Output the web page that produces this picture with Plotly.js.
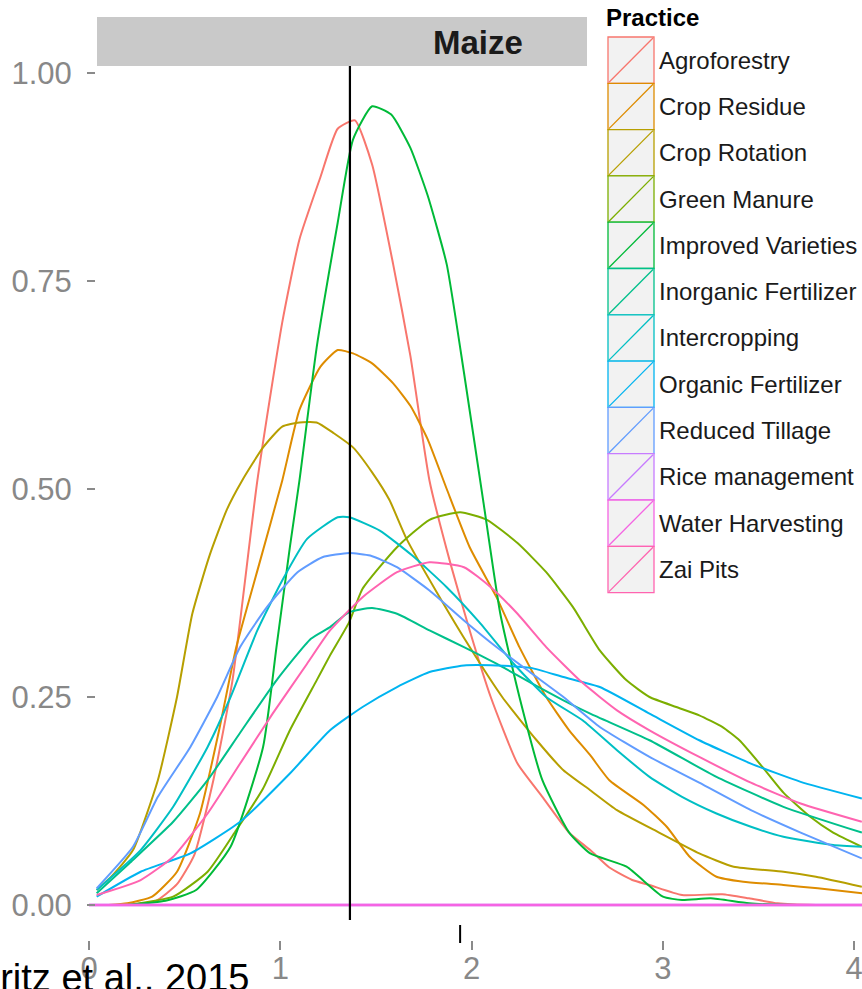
<!DOCTYPE html>
<html>
<head>
<meta charset="utf-8">
<script src="https://cdn.plot.ly/plotly-3.0.1.min.js"></script>
<style>html,body{margin:0;padding:0;background:#fff;}#chart{width:862px;height:989px;}</style>
</head>
<body>
<div id="chart"></div>
<script>
// ---------- data ----------
const practices = ["Agroforestry","Crop Residue","Crop Rotation","Green Manure","Improved Varieties",
  "Inorganic Fertilizer","Intercropping","Organic Fertilizer","Reduced Tillage","Rice management",
  "Water Harvesting","Zai Pits"];
const colors = ["rgb(248,118,109)","rgb(222,140,0)","rgb(183,159,0)","rgb(124,174,0)","rgb(0,186,56)",
  "rgb(0,192,139)","rgb(0,191,196)","rgb(0,180,240)","rgb(97,156,255)","rgb(199,124,255)",
  "rgb(245,100,227)","rgb(255,100,176)"];

const agroX = [0.2,0.35,0.46,0.55,0.65,0.75,0.88,1.01,1.10,1.21,1.30,1.39,1.48,1.59,1.68,1.78,1.89,1.99,2.10,2.24,2.37,2.51,2.62,2.72,2.84,2.93,3.10,3.31,3.45,3.60,3.8,4.1];
const agroY = [0.0,0.005,0.025,0.06,0.15,0.27,0.51,0.70,0.80,0.875,0.933,0.943,0.89,0.77,0.66,0.51,0.41,0.33,0.25,0.17,0.13,0.087,0.066,0.045,0.03,0.024,0.012,0.013,0.008,0.002,0,0];

const residueX = [0.1,0.2,0.33,0.46,0.58,0.68,0.77,0.89,1.01,1.10,1.21,1.30,1.38,1.48,1.59,1.68,1.77,1.87,1.99,2.13,2.25,2.39,2.51,2.62,2.72,2.90,3.02,3.14,3.28,3.42,3.63,3.81,4.05];
const residueY = [0.0,0.002,0.01,0.04,0.11,0.21,0.31,0.41,0.51,0.595,0.647,0.667,0.663,0.651,0.627,0.60,0.56,0.50,0.43,0.37,0.31,0.25,0.21,0.18,0.15,0.12,0.094,0.058,0.034,0.028,0.024,0.02,0.014];

const rotationX = [0.04,0.12,0.23,0.36,0.46,0.54,0.63,0.72,0.80,0.91,1.01,1.10,1.19,1.28,1.38,1.48,1.57,1.66,1.82,1.99,2.16,2.34,2.48,2.62,2.76,2.98,3.19,3.37,3.63,3.80,4.04];
const rotationY = [0.018,0.035,0.066,0.15,0.25,0.35,0.42,0.475,0.51,0.55,0.575,0.58,0.58,0.567,0.55,0.52,0.487,0.44,0.375,0.31,0.25,0.198,0.162,0.138,0.114,0.087,0.062,0.046,0.04,0.034,0.022];

const manureX = [0.2,0.44,0.62,0.77,0.91,1.05,1.19,1.26,1.36,1.43,1.61,1.78,1.94,2.08,2.24,2.39,2.53,2.67,2.81,2.93,3.07,3.19,3.31,3.40,3.52,3.63,3.77,3.89,4.04];
const manureY = [0.0,0.01,0.04,0.09,0.14,0.21,0.27,0.30,0.34,0.38,0.43,0.463,0.472,0.463,0.435,0.40,0.358,0.306,0.27,0.25,0.238,0.228,0.214,0.198,0.166,0.135,0.106,0.087,0.07];

const varietiesX = [0.2,0.4,0.56,0.74,0.91,0.98,1.05,1.10,1.19,1.30,1.38,1.48,1.58,1.68,1.77,1.87,1.96,2.06,2.15,2.25,2.37,2.51,2.62,2.81,3.0,3.10,3.25,3.45,3.7,4.1];
const varietiesY = [0.0,0.005,0.018,0.07,0.19,0.31,0.43,0.51,0.67,0.82,0.92,0.96,0.95,0.91,0.853,0.77,0.64,0.487,0.35,0.25,0.15,0.087,0.062,0.046,0.01,0.006,0.008,0.002,0,0];

const inorgX = [0.04,0.21,0.44,0.62,0.79,0.98,1.16,1.26,1.36,1.48,1.61,1.78,1.96,2.13,2.31,2.48,2.62,2.93,3.28,3.63,4.04];
const inorgY = [0.014,0.05,0.10,0.15,0.207,0.27,0.32,0.334,0.352,0.357,0.35,0.33,0.31,0.29,0.267,0.246,0.23,0.198,0.154,0.118,0.087];

const intercropX = [0.04,0.27,0.44,0.62,0.74,0.88,1.01,1.14,1.30,1.36,1.52,1.69,1.87,2.04,2.22,2.39,2.58,2.76,2.93,3.10,3.28,3.46,3.63,3.89,4.04];
const intercropY = [0.018,0.066,0.118,0.19,0.25,0.33,0.39,0.44,0.466,0.466,0.45,0.42,0.382,0.34,0.29,0.25,0.222,0.186,0.154,0.13,0.11,0.094,0.082,0.072,0.07];

const organicX = [0.04,0.27,0.53,0.79,1.05,1.26,1.43,1.61,1.78,1.96,2.13,2.31,2.48,2.67,2.93,3.19,3.46,3.72,4.04];
const organicY = [0.01,0.04,0.062,0.10,0.158,0.21,0.238,0.262,0.28,0.288,0.288,0.285,0.274,0.262,0.23,0.198,0.17,0.148,0.128];

const tillageX = [0.04,0.23,0.36,0.53,0.67,0.79,0.93,1.09,1.22,1.36,1.47,1.61,1.78,1.96,2.13,2.31,2.48,2.67,2.93,3.19,3.46,3.72,4.04];
const tillageY = [0.02,0.07,0.13,0.19,0.25,0.31,0.358,0.40,0.418,0.423,0.42,0.406,0.378,0.342,0.31,0.279,0.25,0.214,0.178,0.147,0.114,0.087,0.056];

const riceX = [0, 4.1];
const riceY = [0, 0];
const waterX = [0, 4.1];
const waterY = [0, 0];

const zaiX = [0.04,0.27,0.44,0.62,0.79,0.96,1.14,1.26,1.43,1.61,1.78,1.96,2.10,2.24,2.39,2.58,2.76,2.93,3.19,3.46,3.72,4.04];
const zaiY = [0.012,0.03,0.058,0.11,0.17,0.23,0.29,0.33,0.37,0.40,0.412,0.406,0.382,0.35,0.31,0.267,0.234,0.21,0.178,0.147,0.122,0.10];

const seriesX = [agroX,residueX,rotationX,manureX,varietiesX,inorgX,intercropX,organicX,tillageX,riceX,waterX,zaiX];
const seriesY = [agroY,residueY,rotationY,manureY,varietiesY,inorgY,intercropY,organicY,tillageY,riceY,waterY,zaiY];

const yTicks = [0, 0.25, 0.5, 0.75, 1.0];
const yTickText = ["0.00","0.25","0.50","0.75","1.00"];
const xTicks = [0, 1, 2, 3, 4];
const vlineX = 1.364;   // reference (mean) line
const markX = 1.94;     // short mark below the panel
const facetLabel = "Maize";
const legendTitle = "Practice";
const sourceText = "Fritz et al., 2015";

// ---------- layout helpers (pixel -> paper) ----------
const W = 862, H = 989;
const L = 85, R = 862, T = 66, B = 940;
const px = v => (v - L) / (R - L);
const py = v => (B - v) / (B - T);

// flat zero lines drawn last (on top)
const order = [0,1,2,3,4,5,6,7,8,11,9,10];
const traces = order.map(i => ({
  type: 'scatter', mode: 'lines', x: seriesX[i], y: seriesY[i], name: practices[i],
  line: {color: colors[i], width: (seriesX[i].length === 2 ? 2.6 : 2), shape: 'spline', smoothing: 0.5},
  hoverinfo: 'skip', showlegend: false, cliponaxis: true
}));

const shapes = [];
const annotations = [];
const FONT = 'Liberation Sans, Arial, sans-serif';

// facet strip
shapes.push({type:'rect', xref:'paper', yref:'paper', x0:px(97), x1:px(870), y0:py(66), y1:py(17),
  fillcolor:'#C9C9C9', line:{width:0}, layer:'below'});
annotations.push({xref:'paper', yref:'paper', x:px(478), y:py(42), text:'<b>'+facetLabel+'</b>', showarrow:false,
  xanchor:'center', yanchor:'middle', font:{family:FONT, size:33, color:'#1a1a1a'}});

// vertical reference line & small mark
shapes.push({type:'line', xref:'x', yref:'y', x0:vlineX, x1:vlineX, y0:-0.018, y1:1.0084,
  line:{color:'#000000', width:2.2}, layer:'above'});
shapes.push({type:'line', xref:'x', yref:'paper', x0:markX, x1:markX, y0:py(943), y1:py(925),
  line:{color:'#000000', width:2}, layer:'above'});

// legend (white backing overlapping the strip, keys, labels)
shapes.push({type:'rect', xref:'paper', yref:'paper', x0:px(587), x1:px(875), y0:py(600), y1:py(-5),
  fillcolor:'#FFFFFF', line:{width:0}, layer:'above'});
annotations.push({xref:'paper', yref:'paper', x:px(604), y:py(18), text:'<b>'+legendTitle+'</b>', showarrow:false,
  xanchor:'left', yanchor:'middle', font:{family:FONT, size:24, color:'#000'}});
const keyTop = 37, keyH = 46.3, keyL = 608, keyR = 654;
practices.forEach((p, i) => {
  const t = keyTop + i * keyH, b = t + keyH;
  shapes.push({type:'rect', xref:'paper', yref:'paper', x0:px(keyL), x1:px(keyR), y0:py(b), y1:py(t),
    fillcolor:'rgb(242,242,242)', line:{color:colors[i], width:1.3}, layer:'above'});
  shapes.push({type:'line', xref:'paper', yref:'paper', x0:px(keyL + 1), x1:px(keyR - 1), y0:py(b - 1), y1:py(t + 1),
    line:{color:colors[i], width:1.3}, opacity:1, layer:'above'});
  annotations.push({xref:'paper', yref:'paper', x:px(657), y:py(t + keyH/2), text:p, showarrow:false,
    xanchor:'left', yanchor:'middle', font:{family:FONT, size:24, color:'#1a1a1a'}});
});

// source text (partly cut off at bottom-left)
annotations.push({xref:'paper', yref:'paper', x:px(-25), y:py(955), text:sourceText, showarrow:false,
  xanchor:'left', yanchor:'top', font:{family:FONT, size:38, color:'#000'}});

const layout = {
  width: W, height: H,
  margin: {l: L, r: W - R, t: T, b: H - B, pad: 0},
  paper_bgcolor: '#FFFFFF', plot_bgcolor: '#FFFFFF',
  showlegend: false,
  xaxis: {
    range: [(L - 89) / 191.3, (R - 89) / 191.3],
    tickvals: xTicks, ticktext: xTicks.map(String),
    showgrid: false, zeroline: false, showline: false,
    ticks: 'outside', ticklen: 9, tickwidth: 2, tickcolor: '#8a8a8a',
    ticklabelstandoff: -8, ticklabeloverflow: 'allow',
    tickfont: {family: FONT, size: 31, color: '#888888'}
  },
  yaxis: {
    range: [-(B - 905) / 832, (905 - T) / 832],
    tickvals: yTicks, ticktext: yTickText,
    anchor: 'free', position: px(95),
    showgrid: false, zeroline: false, showline: false,
    ticks: 'outside', ticklen: 8, tickwidth: 2, tickcolor: '#8a8a8a',
    ticklabelstandoff: 9,
    tickfont: {family: FONT, size: 31, color: '#888888'}
  },
  shapes: shapes,
  annotations: annotations
};

Plotly.newPlot('chart', traces, layout, {staticPlot: true, displayModeBar: false});
</script>
</body>
</html>
